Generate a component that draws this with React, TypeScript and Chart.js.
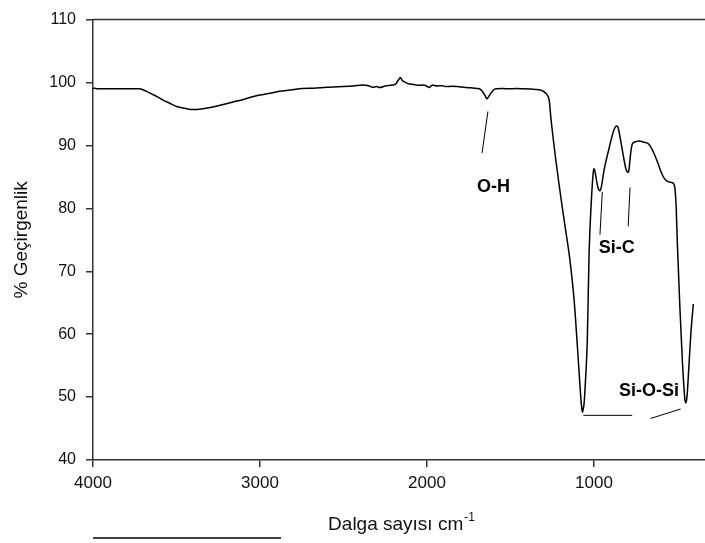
import React, { useEffect, useRef } from 'react';
import { Chart, registerables } from 'chart.js';

Chart.register(...registerables);

// ---- Data ----
const wavenumbers = [
  4000, 3990, 3975, 3950, 3900, 3850, 3800, 3760, 3720, 3680, 3650, 3619, 3580, 3540, 3500, 3450,
  3400, 3350, 3281, 3220, 3161, 3100, 3050, 3002, 2940, 2882, 2820, 2745, 2680, 2620, 2565, 2500,
  2440, 2386, 2350, 2326, 2300, 2285, 2250, 2207, 2185, 2177, 2168, 2159, 2150, 2135, 2120, 2105,
  2080, 2050, 2020, 2004, 1986, 1968, 1940, 1910, 1884, 1850, 1818, 1780, 1740, 1700, 1680, 1663,
  1650, 1641, 1630, 1615, 1600, 1587, 1550, 1500, 1468, 1420, 1380, 1350, 1328, 1310, 1288, 1275,
  1268, 1258, 1245, 1230, 1210, 1190, 1170, 1145, 1119, 1099, 1085, 1079, 1072, 1069, 1065, 1059,
  1050, 1040, 1029, 1015, 1005, 1001, 995, 985, 975, 964, 955, 940, 910, 880, 864, 855,
  845, 825, 808, 800, 796, 790, 785, 778, 771, 760, 750, 731, 700, 671, 645, 620,
  590, 571, 550, 533, 520, 515, 508, 500, 485, 470, 455, 450, 443, 432, 420, 405,
];

const transmittance = [
  99.05, 99.1, 99.0, 99.0, 99.0, 99.0, 99.0, 99.0, 99.0, 98.6, 98.2, 97.8, 97.2, 96.7, 96.2, 95.9,
  95.7, 95.8, 96.1, 96.5, 96.9, 97.3, 97.7, 98.0, 98.3, 98.6, 98.8, 99.05, 99.1, 99.2, 99.3, 99.35,
  99.45, 99.6, 99.5, 99.25, 99.35, 99.2, 99.45, 99.6, 99.8, 100.2, 100.5, 100.8, 100.4, 100.1, 99.9, 99.75,
  99.7, 99.55, 99.6, 99.45, 99.2, 99.6, 99.45, 99.5, 99.35, 99.4, 99.35, 99.25, 99.15, 99.05, 98.9, 98.4,
  97.8, 97.4, 97.8, 98.4, 98.85, 99.0, 99.05, 99.0, 99.05, 99.0, 98.95, 98.9, 98.85, 98.7, 98.3, 97.8,
  97.2, 94.4, 91.3, 88.0, 84.0, 80.2, 76.6, 72.0, 65.5, 58.0, 52.3, 50.0, 48.0, 47.6, 48.0, 49.0,
  53.0, 58.8, 73.0, 81.5, 85.5, 86.3, 86.0, 84.5, 83.2, 82.8, 83.5, 86.0, 89.5, 92.5, 93.1, 92.8,
  91.5, 88.5, 86.2, 85.8, 85.7, 86.2, 87.5, 89.2, 90.2, 90.5, 90.6, 90.7, 90.5, 90.2, 89.0, 87.4,
  85.3, 84.5, 84.2, 84.1, 83.8, 83.2, 80.5, 74.0, 64.0, 55.5, 49.5, 49.1, 50.0, 54.6, 60.0, 64.8,
];

const xTickValues = [4000, 3000, 2000, 1000];
const yMin = 40;
const yMax = 110;
const yStep = 10;

const bandLabels = ['O-H', 'Si-C', 'Si-O-Si'];
const xTitle = 'Dalga sayısı cm';
const xTitleSup = '-1';
const yTitle = '% Geçirgenlik';

// annotation anchors in data units [wavenumber, %]
const bandLabelAnchors: [number, number][] = [
  [1601, 83.4],
  [864, 73.7],
  [671, 51.0],
];
const leaderSegments: [number, number, number, number][] = [
  [1635, 95.4, 1670, 88.8],
  [950, 82.6, 964, 75.8],
  [784, 83.3, 795, 77.15],
  [1063, 47.1, 771, 47.1],
  [661, 46.6, 481, 48.1],
];

const FONT = '"Liberation Sans", Arial, Helvetica, sans-serif';
const AXIS = '#333333';
const TEXT = '#111111';

const decorPlugin = {
  id: 'decor',
  afterDraw(chart: any) {
    const { ctx, chartArea, scales } = chart;
    const xs = scales.x;
    const ys = scales.y;
    ctx.save();
    // top frame line
    ctx.strokeStyle = AXIS;
    ctx.lineWidth = 1.5;
    ctx.beginPath();
    ctx.moveTo(chartArea.left, chartArea.top);
    ctx.lineTo(chartArea.right, chartArea.top);
    ctx.stroke();

    // leader lines
    ctx.strokeStyle = '#000';
    ctx.lineWidth = 1;
    leaderSegments.forEach(([x1, y1, x2, y2]) => {
      ctx.beginPath();
      ctx.moveTo(xs.getPixelForValue(x1), ys.getPixelForValue(y1));
      ctx.lineTo(xs.getPixelForValue(x2), ys.getPixelForValue(y2));
      ctx.stroke();
    });

    // band labels
    ctx.fillStyle = '#000';
    ctx.font = `bold 18px ${FONT}`;
    ctx.textAlign = 'center';
    ctx.textBaseline = 'middle';
    bandLabels.forEach((t, i) => {
      const [wx, wy] = bandLabelAnchors[i];
      ctx.fillText(t, xs.getPixelForValue(wx), ys.getPixelForValue(wy));
    });

    // x title with superscript
    ctx.fillStyle = TEXT;
    ctx.font = `19px ${FONT}`;
    const mainW = ctx.measureText(xTitle).width;
    ctx.font = `12px ${FONT}`;
    const supW = ctx.measureText(xTitleSup).width;
    const cx = (chartArea.left + chartArea.right) / 2 + 2;
    const tx = cx - (mainW + supW) / 2;
    const ty = chartArea.bottom + 63;
    ctx.textAlign = 'left';
    ctx.textBaseline = 'alphabetic';
    ctx.font = `19px ${FONT}`;
    ctx.fillText(xTitle, tx, ty + 7);
    ctx.font = `12px ${FONT}`;
    ctx.fillText(xTitleSup, tx + mainW + 1, ty - 2);

    // y title
    ctx.save();
    ctx.translate(chartArea.left - 71, (chartArea.top + chartArea.bottom) / 2 + 0);
    ctx.rotate(-Math.PI / 2);
    ctx.font = `19px ${FONT}`;
    ctx.textAlign = 'center';
    ctx.textBaseline = 'middle';
    ctx.fillText(yTitle, 0, 0);
    ctx.restore();

    // stray line below the axis title
    ctx.strokeStyle = '#000';
    ctx.lineWidth = 1.5;
    ctx.beginPath();
    ctx.moveTo(chartArea.left, chartArea.bottom + 78);
    ctx.lineTo(chartArea.left + 188, chartArea.bottom + 78);
    ctx.stroke();
    ctx.restore();
  },
};

export default function App() {
  const ref = useRef<HTMLCanvasElement | null>(null);

  useEffect(() => {
    if (!ref.current) return;
    const points = wavenumbers.map((w, i) => ({ x: w, y: transmittance[i] }));
    const chart = new Chart(ref.current, {
      type: 'line',
      data: {
        datasets: [
          {
            data: points,
            borderColor: '#000',
            borderWidth: 1.5,
            pointRadius: 0,
            fill: false,
            cubicInterpolationMode: 'monotone',
          },
        ],
      },
      options: {
        responsive: false,
        animation: false,
        events: [],
        layout: { padding: { top: 14, right: 0, left: 0, bottom: 0 } },
        plugins: { legend: { display: false }, tooltip: { enabled: false } },
        scales: {
          x: {
            type: 'linear',
            reverse: true,
            min: 335,
            max: 4000,
            afterBuildTicks: (scale: any) => {
              scale.ticks = xTickValues.map((v) => ({ value: v }));
            },
            afterFit: (scale: any) => {
              scale.height = 83;
            },
            grid: {
              display: true,
              drawOnChartArea: false,
              drawTicks: true,
              tickLength: 7,
              color: AXIS,
              lineWidth: 1.5,
            },
            border: { display: true, color: AXIS, width: 1.5 },
            ticks: {
              color: TEXT,
              font: { family: FONT, size: 17 },
              padding: 6,
              maxRotation: 0,
              autoSkip: false,
              callback: (v: any) => String(v),
            },
          },
          y: {
            type: 'linear',
            min: yMin,
            max: yMax,
            afterFit: (scale: any) => {
              scale.width = 93;
            },
            grid: {
              display: true,
              drawOnChartArea: false,
              drawTicks: true,
              tickLength: 7,
              color: AXIS,
              lineWidth: 1.5,
            },
            border: { display: true, color: AXIS, width: 1.5 },
            ticks: {
              stepSize: yStep,
              color: TEXT,
              font: { family: FONT, size: 16 },
              padding: 10,
            },
          },
        },
      },
      plugins: [decorPlugin],
    } as any);
    return () => chart.destroy();
  }, []);

  return (
    <div style={{ position: 'fixed', left: 0, top: 0, width: 705, height: 543, background: '#fff' }}>
      <canvas ref={ref} width={705} height={543} style={{ display: 'block', width: 705, height: 543 }} />
    </div>
  );
}
